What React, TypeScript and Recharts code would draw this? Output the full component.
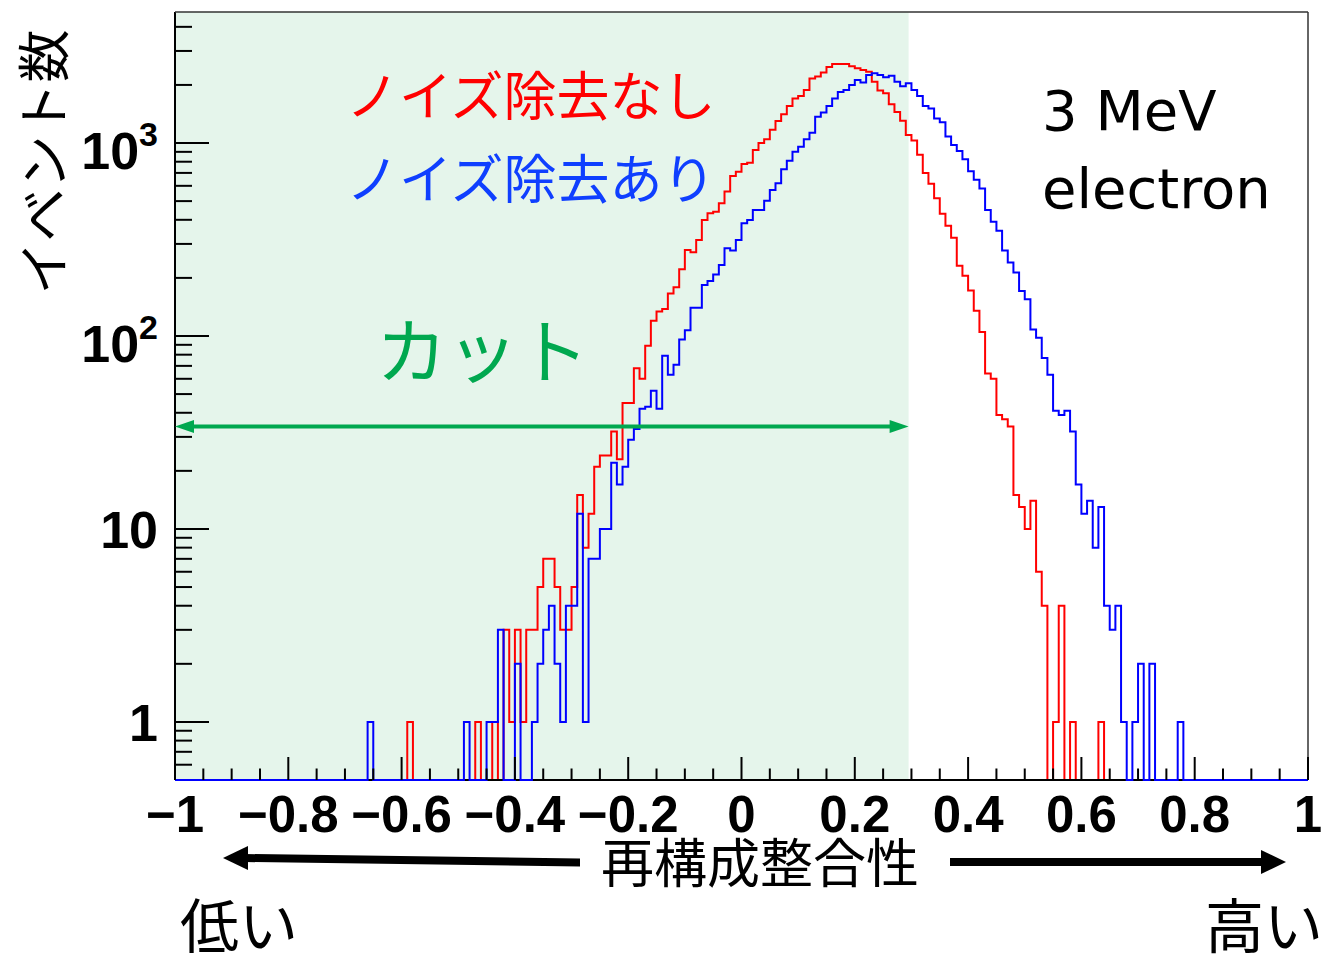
import React from 'react';
import { LineChart, Line, XAxis, YAxis, ReferenceArea, ReferenceLine } from 'recharts';

// 200 bins on [-1, 1]
const binLow = -1;
const binWidth = 0.01;

// ノイズ除去なし (red), counts per bin
const countsNoDenoise = [
  0, 0, 0, 0, 0, 0, 0, 0, 0, 0,
  0, 0, 0, 0, 0, 0, 0, 0, 0, 0,
  0, 0, 0, 0, 0, 0, 0, 0, 0, 0,
  0, 0, 0, 0, 0, 0, 0, 0, 0, 0,
  0, 1, 0, 0, 0, 0, 0, 0, 0, 0,
  0, 0, 0, 1, 0, 0, 1, 0, 3, 1,
  3, 1, 3, 3, 5, 7, 7, 5, 3, 3,
  5, 15, 8, 12, 21, 24, 24, 32, 23, 45,
  45, 68, 60, 89, 120, 134, 138, 166, 179, 222,
  279, 272, 314, 399, 432, 441, 487, 560, 675, 710,
  778, 790, 920, 1000, 1045, 1170, 1300, 1410, 1555, 1700,
  1750, 1880, 2160, 2210, 2320, 2480, 2570, 2570, 2570, 2500,
  2440, 2390, 2340, 2080, 1870, 1810, 1590, 1450, 1305, 1100,
  1030, 870, 700, 615, 517, 430, 373, 323, 231, 205,
  172, 135, 105, 64, 60, 39, 37, 34, 15, 13,
  10, 14, 6, 4, 0, 1, 4, 0, 1, 0,
  0, 0, 0, 1, 0, 0, 0, 0, 0, 0,
  0, 0, 0, 0, 0, 0, 0, 0, 0, 0,
  0, 0, 0, 0, 0, 0, 0, 0, 0, 0,
  0, 0, 0, 0, 0, 0, 0, 0, 0, 0,
];

// ノイズ除去あり (blue), counts per bin
const countsDenoise = [
  0, 0, 0, 0, 0, 0, 0, 0, 0, 0,
  0, 0, 0, 0, 0, 0, 0, 0, 0, 0,
  0, 0, 0, 0, 0, 0, 0, 0, 0, 0,
  0, 0, 0, 0, 1, 0, 0, 0, 0, 0,
  0, 0, 0, 0, 0, 0, 0, 0, 0, 0,
  0, 1, 0, 0, 0, 1, 1, 3, 0, 0,
  2, 0, 0, 1, 2, 3, 4, 2, 1, 4,
  4, 12, 1, 7, 7, 10, 10, 22, 17, 21,
  29, 33, 42, 43, 52, 42, 79, 63, 71, 96,
  107, 140, 140, 184, 193, 208, 233, 285, 277, 314,
  384, 399, 450, 450, 502, 571, 618, 731, 809, 901,
  957, 1045, 1130, 1370, 1440, 1555, 1700, 1840, 1880, 2000,
  2120, 2060, 2250, 2300, 2250, 2190, 2230, 2080, 1970, 2040,
  1880, 1750, 1555, 1510, 1340, 1280, 1080, 977, 910, 823,
  713, 645, 582, 450, 391, 351, 277, 240, 213, 171,
  155, 108, 98, 77, 63, 41, 39, 41, 32, 17,
  12, 14, 8, 13, 4, 3, 4, 1, 0, 1,
  2, 0, 2, 0, 0, 0, 0, 1, 0, 0,
  0, 0, 0, 0, 0, 0, 0, 0, 0, 0,
  0, 0, 0, 0, 0, 0, 0, 0, 0, 0,
];

const xTicks = [
  -1, -0.95, -0.9, -0.85, -0.8, -0.75, -0.7, -0.65, -0.6, -0.55,
  -0.5, -0.45, -0.4, -0.35, -0.3, -0.25, -0.2, -0.15, -0.1, -0.05,
  0, 0.05, 0.1, 0.15, 0.2, 0.25, 0.3, 0.35, 0.4, 0.45,
  0.5, 0.55, 0.6, 0.65, 0.7, 0.75, 0.8, 0.85, 0.9, 0.95, 1,
];
const xMajor = [-1, -0.8, -0.6, -0.4, -0.2, 0, 0.2, 0.4, 0.6, 0.8, 1];

const yTicks = [
  0.6, 0.7, 0.8, 0.9,
  1, 2, 3, 4, 5, 6, 7, 8, 9,
  10, 20, 30, 40, 50, 60, 70, 80, 90,
  100, 200, 300, 400, 500, 600, 700, 800, 900,
  1000, 2000, 3000, 4000,
];
const yMajor = [1, 10, 100, 1000];
const yMajorBase = ['1', '10', '10', '10'];
const yMajorExp = ['', '', '2', '3'];

const yDomain = [0.5, 4775];
const cutEdge = 0.295;
const cutArrowLevel = 34;

const PLOT_LEFT = 175; // y axis width, margin.left = 0
const GREEN = '#00a84f';
const RED = '#ff0000';
const BLUE = '#0000ff';
const JP = "'Noto Sans CJK JP', 'Noto Sans', sans-serif";
const NUM = "'Liberation Sans', Arial, Helvetica, sans-serif";

// empty red bins sit below the axis floor so the clip hides them (drawn under the frame)
const data = Array.from({ length: countsNoDenoise.length + 1 }, (_, i) => {
  const k = Math.min(i, countsNoDenoise.length - 1);
  const r = countsNoDenoise[k];
  const b = countsDenoise[k];
  return {
    x: Math.round((binLow + i * binWidth) * 100) / 100,
    red: r > 0 ? r : 0.2,
    blue: b > 0 ? b : yDomain[0],
  };
});

const fmtX = (v: number) => (v === 0 ? '0' : (v < 0 ? '\u2212' : '') + String(Math.abs(v)));

const XTick = (props: any) => {
  const { x, y, payload } = props;
  const v = payload.value;
  const major = xMajor.some((m) => Math.abs(m - v) < 1e-6);
  return (
    <g>
      <line x1={x} x2={x} y1={y} y2={y - (major ? 23 : 11.5)} stroke="#000" strokeWidth={2} />
      {major && (
        <text x={x} y={y + 52} textAnchor="middle" fontFamily={NUM} fontWeight="bold" fontSize={51} fill="#000">
          {fmtX(v)}
        </text>
      )}
    </g>
  );
};

const YTick = (props: any) => {
  const { y, payload } = props;
  const x = PLOT_LEFT;
  const idx = yMajor.indexOf(payload.value);
  const major = idx >= 0;
  return (
    <g>
      <line x1={x} x2={x + (major ? 34 : 17)} y1={y} y2={y} stroke="#000" strokeWidth={2} />
      {major && (
        <text
          x={x - 17}
          y={y + (yMajorExp[idx] ? 26 : 19)}
          textAnchor="end"
          fontFamily={NUM}
          fontWeight="bold"
          fontSize={52}
          fill="#000"
        >
          {yMajorBase[idx]}
          {yMajorExp[idx] && (
            <tspan fontSize={34} dy={-23}>
              {yMajorExp[idx]}
            </tspan>
          )}
        </text>
      )}
    </g>
  );
};

const CutArrow = (props: any) => {
  const { x1, y1, x2, y2 } = props;
  return (
    <g>
      <line x1={x1 + 12} y1={y1} x2={x2 - 12} y2={y2} stroke={GREEN} strokeWidth={4} />
      <polygon points={`${x1},${y1} ${x1 + 19},${y1 - 6.5} ${x1 + 19},${y1 + 6.5}`} fill={GREEN} />
      <polygon points={`${x2},${y2} ${x2 - 19},${y2 - 6.5} ${x2 - 19},${y2 + 6.5}`} fill={GREEN} />
    </g>
  );
};

export default function App() {
  return (
    <div style={{ position: 'relative', width: 1327, height: 956, background: '#fff' }}>
      <style>{'body{margin:0}'}</style>
      <LineChart width={1327} height={956} data={data} margin={{ top: 12, right: 19, bottom: 0, left: 0 }}>
        <ReferenceArea
          yAxisId="r"
          x1={binLow}
          x2={cutEdge}
          fill="#e5f5eb"
          fillOpacity={1}
          stroke="none"
          zIndex={50}
        />
        <YAxis
          yAxisId="r"
          type="number"
          scale="log"
          domain={yDomain}
          allowDataOverflow
          ticks={yTicks}
          interval={0}
          width={PLOT_LEFT}
          tickSize={0}
          tickMargin={0}
          tickLine={false}
          tick={<YTick />}
          axisLine={false}
        />
        <YAxis yAxisId="b" type="number" scale="log" domain={yDomain} width={0} hide />
        <Line
          yAxisId="r"
          dataKey="red"
          type="stepAfter"
          stroke={RED}
          strokeWidth={2}
          dot={false}
          activeDot={false}
          isAnimationActive={false}
          zIndex={400}
        />
        <XAxis
          dataKey="x"
          type="number"
          domain={[-1, 1]}
          ticks={xTicks}
          interval={0}
          height={176}
          tickSize={0}
          tickMargin={0}
          tickLine={false}
          tick={<XTick />}
          axisLine={{ stroke: '#000', strokeWidth: 2 }}
        />
        <Line
          yAxisId="b"
          dataKey="blue"
          type="stepAfter"
          stroke={BLUE}
          strokeWidth={2}
          dot={false}
          activeDot={false}
          isAnimationActive={false}
          zIndex={600}
        />
        <ReferenceLine yAxisId="r" x={binLow} stroke="#000" strokeWidth={2} zIndex={700} />
        <ReferenceLine yAxisId="r" x={1} stroke="#333" strokeWidth={1.5} zIndex={700} />
        <ReferenceLine yAxisId="r" y={yDomain[1]} stroke="#333" strokeWidth={1.5} zIndex={700} />
        <ReferenceLine
          yAxisId="r"
          segment={[
            { x: binLow, y: cutArrowLevel },
            { x: cutEdge, y: cutArrowLevel },
          ]}
          shape={CutArrow}
          zIndex={700}
        />
      </LineChart>

      <svg width={1327} height={956} style={{ position: 'absolute', left: 0, top: 0, pointerEvents: 'none' }}>
        <text
          transform="translate(41,162) rotate(-90)"
          textAnchor="middle"
          dominantBaseline="central"
          fontFamily={JP}
          fontSize={53}
          fill="#000"
        >
          イベント数
        </text>

        <text x={346} y={93} dominantBaseline="central" fontFamily={JP} fontSize={53} fill={RED}>
          ノイズ除去なし
        </text>
        <text x={346} y={176} dominantBaseline="central" fontFamily={JP} fontSize={53} fill="#0f3fff">
          ノイズ除去あり
        </text>
        <text x={376} y={346} dominantBaseline="central" fontFamily={JP} fontSize={71} fill={GREEN}>
          カット
        </text>

        <text x={1042} y={130} fontFamily="'DejaVu Sans', Verdana, sans-serif" fontSize={56} fill="#000">
          3 MeV
        </text>
        <text x={1042} y={208} fontFamily="'DejaVu Sans', Verdana, sans-serif" fontSize={56} fill="#000">
          electron
        </text>

        <text x={760} y={860} textAnchor="middle" dominantBaseline="central" fontFamily={JP} fontSize={53} fill="#000">
          再構成整合性
        </text>

        <polygon points="580,858.5 580,866.5 245,862 245,854" fill="#000" />
        <polygon points="223,858 248,846 248,870" fill="#000" />
        <polygon points="950,858 1262,858 1262,866 950,866" fill="#000" />
        <polygon points="1286,862 1261,850 1261,874" fill="#000" />

        <text x={180} y={922} dominantBaseline="central" fontFamily={JP} fontSize={59} fill="#000">
          低い
        </text>
        <text x={1205} y={922} dominantBaseline="central" fontFamily={JP} fontSize={59} fill="#000">
          高い
        </text>
      </svg>
    </div>
  );
}
